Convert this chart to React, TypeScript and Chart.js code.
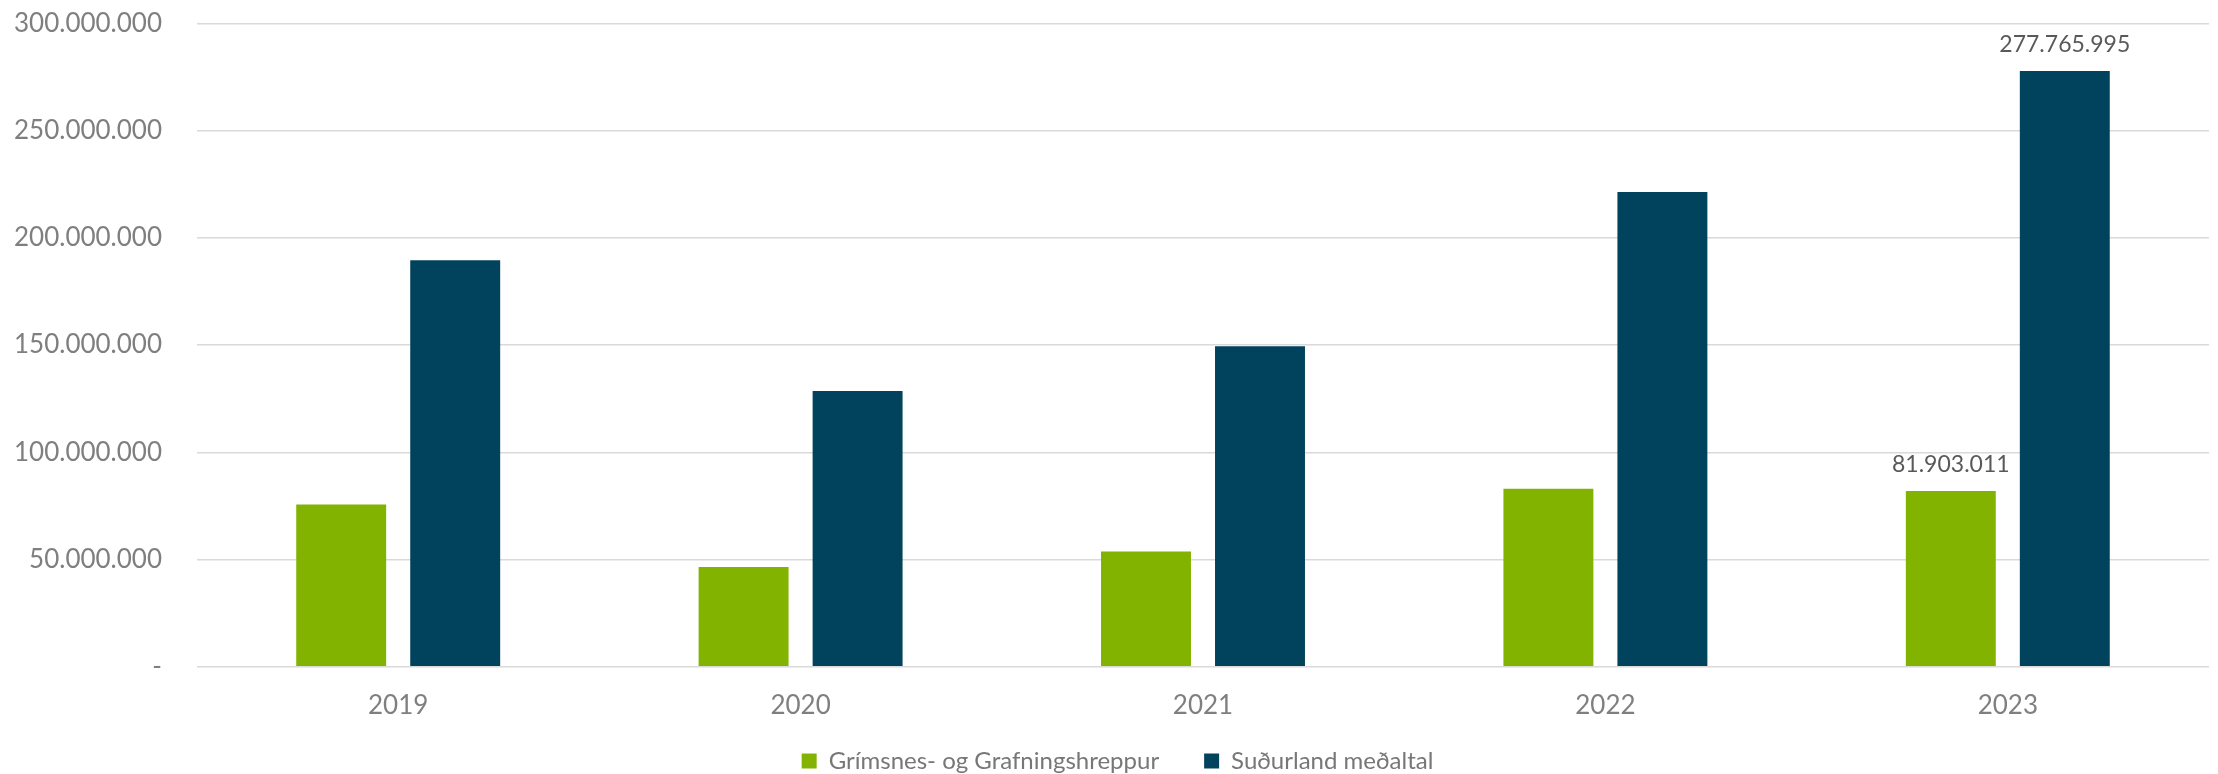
import React, { useEffect, useRef } from 'react';
import { Chart, registerables } from 'chart.js';

Chart.register(...registerables);

const categories = ['2019', '2020', '2021', '2022', '2023'];
const seriesNames = ['Grímsnes- og Grafningshreppur', 'Suðurland meðaltal'];
const grimsnesValues = [75700000, 46500000, 53800000, 83000000, 81903011];
const sudurlandValues = [189500000, 128600000, 149400000, 221300000, 277765995];
const seriesColors = ['#82B300', '#01435C'];
const yMin = 0;
const yMax = 300000000;
const yStep = 50000000;
// [datasetIndex, categoryIndex] of bars that carry a value label
const labeledBars: [number, number][] = [
  [0, 4],
  [1, 4],
];

const fmt = (v: number) =>
  v === 0 ? '-' : String(Math.round(v)).replace(/\B(?=(\d{3})+(?!\d))/g, '.');

const FONT = 'Lato, "Open Sans", sans-serif';
const LEGEND_FONT = 'Lato, sans-serif';
const LEGEND_DX = 13;
const LEGEND_DY = -17;

const valueLabelPlugin = {
  id: 'valueLabels',
  afterDatasetsDraw(chart: any) {
    const ctx = chart.ctx;
    ctx.save();
    ctx.font = `23px ${FONT}`;
    ctx.fillStyle = '#595959';
    ctx.textAlign = 'center';
    ctx.textBaseline = 'alphabetic';
    labeledBars.forEach(([ds, idx]) => {
      const el = chart.getDatasetMeta(ds).data[idx];
      const v = chart.data.datasets[ds].data[idx] as number;
      ctx.fillText(fmt(v), el.x, el.y - 19);
    });
    ctx.restore();
  },
};

const legendShiftPlugin = {
  id: 'legendShift',
  afterLayout(chart: any) {
    const l = chart.legend;
    if (l) {
      l.left += LEGEND_DX;
      l.right += LEGEND_DX;
      l.top += LEGEND_DY;
      l.bottom += LEGEND_DY;
    }
  },
};

export default function App() {
  const ref = useRef<HTMLCanvasElement | null>(null);

  useEffect(() => {
    if (!ref.current) return;
    const chart = new Chart(ref.current, {
      type: 'bar',
      data: {
        labels: categories,
        datasets: [
          {
            label: seriesNames[0],
            data: grimsnesValues,
            backgroundColor: seriesColors[0],
            categoryPercentage: 0.5666,
            barPercentage: 0.789,
          },
          {
            label: seriesNames[1],
            data: sudurlandValues,
            backgroundColor: seriesColors[1],
            categoryPercentage: 0.5666,
            barPercentage: 0.789,
          },
        ],
      },
      options: {
        animation: false,
        responsive: false,
        maintainAspectRatio: false,
        layout: { padding: { left: 0, right: 9, top: 23.3, bottom: 0 } },
        plugins: {
          tooltip: { enabled: false },
          legend: {
            position: 'bottom',
            labels: {
              boxWidth: 15,
              boxHeight: 15,
              padding: 45,
              color: '#777777',
              font: { size: 24, family: LEGEND_FONT },
            },
          },
        },
        scales: {
          x: {
            grid: { display: false, drawTicks: false },
            border: { display: false },
            ticks: {
              color: '#7f7f7f',
              padding: 23,
              font: { size: 26, family: FONT },
            },
            afterFit: (s: any) => {
              s.height = 54.2;
            },
          },
          y: {
            min: yMin,
            max: yMax,
            grid: { color: '#d9d9d9', lineWidth: 1.6, drawTicks: false },
            border: { display: false },
            ticks: {
              stepSize: yStep,
              color: '#7f7f7f',
              padding: 35,
              font: { size: 26, family: FONT },
              callback: (v: any) => fmt(Number(v)),
            },
            afterFit: (s: any) => {
              s.width = 197;
              s.paddingTop = 0;
              s.paddingBottom = 0;
            },
          },
        },
      },
      plugins: [valueLabelPlugin, legendShiftPlugin],
    });
    return () => chart.destroy();
  }, []);

  return (
    <div
      style={{
        position: 'fixed',
        left: 0,
        top: 0,
        width: 2218,
        height: 774,
        overflow: 'hidden',
        background: '#fff',
      }}
    >
      <canvas ref={ref} width={2218} height={800} style={{ display: 'block' }} />
    </div>
  );
}
